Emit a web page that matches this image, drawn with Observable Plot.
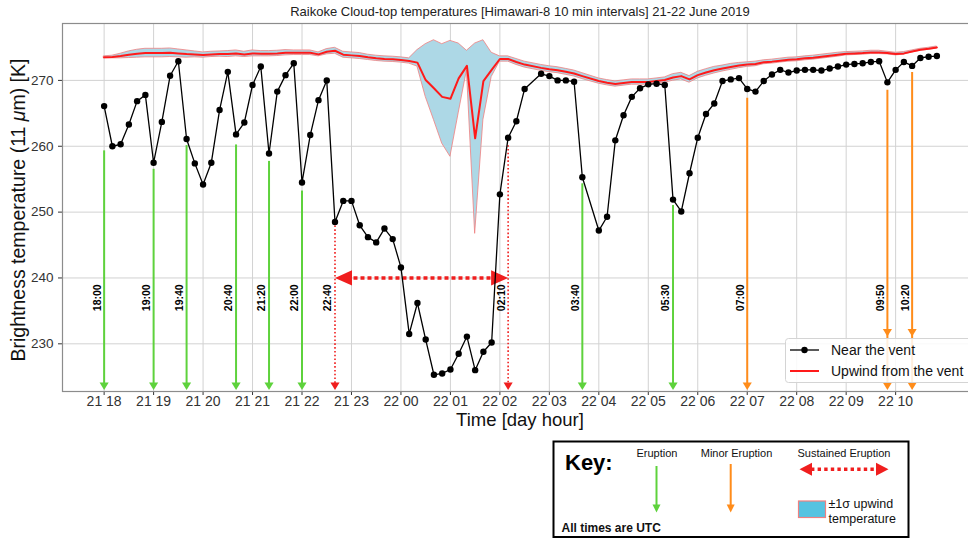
<!DOCTYPE html>
<html>
<head>
<meta charset="utf-8">
<script src="https://cdn.jsdelivr.net/npm/d3@7"></script>
<script src="https://cdn.jsdelivr.net/npm/@observablehq/plot@0.6"></script>
<style>
  html, body { margin: 0; padding: 0; background: #fff; overflow: hidden; }
  #fig { position: relative; width: 968px; height: 539px; overflow: hidden;
         font-family: "Liberation Sans", Arial, Helvetica, sans-serif; }
  #title { position: absolute; left: 62px; width: 916px; top: 4px; text-align: center;
           font-size: 13px; line-height: 16px; color: #222; }
  #chart { position: absolute; left: 0; top: 0; width: 978px; height: 432px; }
  #chart svg { max-width: none !important; }
  #legend, #key { position: absolute; }
  #legend { left: 785px; top: 338px; }
  #key { left: 552px; top: 440px; }
</style>
</head>
<body>
<div id="fig">
  <div id="chart"></div>
  <div id="title">Raikoke Cloud-top temperatures [Himawari-8 10 min intervals] 21-22 June 2019</div>
  <svg id="legend" width="200" height="46"></svg>
  <svg id="key" width="360" height="99"></svg>
</div>
<script>
// ---- Himawari-8 brightness temperatures, 10-minute slots (UTC) ----
const times = [
  "18:00","18:10","18:20","18:30","18:40","18:50",
  "19:00","19:10","19:20","19:30","19:40","19:50",
  "20:00","20:10","20:20","20:30","20:40","20:50",
  "21:00","21:10","21:20","21:30","21:40","21:50",
  "22:00","22:10","22:20","22:30","22:40","22:50",
  "23:00","23:10","23:20","23:30","23:40","23:50",
  "00:00","00:10","00:20","00:30","00:40","00:50",
  "01:00","01:10","01:20","01:30","01:40","01:50",
  "02:00","02:10","02:20","02:30","02:50",
  "03:00","03:10","03:20","03:30","03:40",
  "04:00","04:10","04:20","04:30","04:40","04:50",
  "05:00","05:10","05:20","05:30","05:40","05:50",
  "06:00","06:10","06:20","06:30","06:40","06:50",
  "07:00","07:10","07:20","07:30","07:40","07:50",
  "08:00","08:10","08:20","08:30","08:40","08:50",
  "09:00","09:10","09:20","09:30","09:40","09:50",
  "10:00","10:10","10:20","10:30","10:40","10:50"
];

// Cloud-top temperature near the vent [K]
const nearVent = [
  266.1,260.0,260.3,263.3,266.85,267.8,
  257.5,263.7,270.7,272.9,261.1,257.4,
  254.2,257.5,265.5,271.3,261.8,263.6,
  269.3,272.1,258.9,268.3,270.8,272.6,
  254.5,261.7,267.0,270.0,248.5,251.7,
  251.7,248.0,246.2,245.4,247.5,245.9,
  241.6,231.5,236.2,230.65,225.3,225.5,
  226.1,228.5,231.1,226.0,228.8,230.2,
  252.7,261.3,263.8,268.7,271.0,
  270.65,270.0,270.0,269.8,255.3,
  247.2,249.3,260.9,264.7,267.5,268.8,
  269.4,269.5,269.3,251.9,250.1,255.9,
  261.3,264.9,266.5,269.9,270.15,270.35,
  268.7,268.3,269.9,270.9,271.6,271.2,
  271.5,271.6,271.6,271.5,271.8,272.1,
  272.4,272.5,272.6,272.8,272.9,269.7,
  271.6,272.8,272.2,273.4,273.6,273.7
];

// Mean temperature upwind from the vent [K]
const upwind = [
  273.5,273.55,273.7,273.9,274.05,274.15,
  274.15,274.15,274.2,274.1,274.0,273.95,
  273.85,273.95,274.0,274.0,274.1,273.95,
  274.1,274.05,274.05,274.1,274.2,274.2,
  274.2,274.2,273.95,274.35,274.5,273.9,
  273.8,273.7,273.5,273.35,273.25,273.2,
  273.1,272.95,272.7,270.05,268.8,267.5,
  267.2,270.3,272.2,261.2,269.9,271.6,
  273.25,273.25,272.8,272.4,271.9,
  271.7,271.55,271.3,271.05,270.65,
  269.9,269.65,269.45,269.6,269.75,269.75,
  269.75,269.9,270.05,270.45,270.65,270.15,
  270.8,271.2,271.55,271.8,272.05,272.25,
  272.4,272.5,272.75,272.85,273.0,273.15,
  273.2,273.35,273.45,273.6,273.75,273.9,
  274.05,274.1,274.15,274.25,274.25,274.15,
  274.0,274.1,274.4,274.65,274.8,275.0
];

// Upwind -1 sigma and +1 sigma bounds [K]
const upwindLow = [
  273.35,273.35,273.35,273.4,273.45,273.5,
  273.5,273.5,273.55,273.5,273.45,273.5,
  273.45,273.55,273.6,273.55,273.65,273.55,
  273.65,273.65,273.65,273.7,273.8,273.85,
  273.85,273.85,273.65,273.95,274.05,273.45,
  273.35,273.25,273.1,272.95,272.85,272.8,
  272.7,272.55,272.1,267.5,264.0,260.4,
  258.4,265.0,271.5,246.7,264.0,270.5,
  272.85,272.85,272.35,271.95,271.45,
  271.25,271.1,270.85,270.6,270.2,
  269.5,269.25,269.05,269.2,269.35,269.35,
  269.35,269.5,269.65,269.95,270.15,269.65,
  270.3,270.7,271.05,271.35,271.6,271.85,
  272.05,272.15,272.45,272.55,272.7,272.85,
  272.9,273.05,273.15,273.3,273.45,273.6,
  273.8,273.85,273.9,274.0,274.0,273.95,
  273.8,273.9,274.25,274.5,274.65,274.85
];
const upwindHigh = [
  273.65,273.75,274.05,274.4,274.65,274.8,
  274.8,274.8,274.85,274.7,274.55,274.4,
  274.25,274.35,274.4,274.45,274.55,274.35,
  274.55,274.45,274.45,274.5,274.6,274.55,
  274.55,274.55,274.25,274.75,274.95,274.35,
  274.25,274.15,273.9,273.75,273.65,273.6,
  273.5,273.35,274.6,275.5,276.1,275.5,
  276.0,275.6,274.5,275.6,276.1,274.2,
  273.65,273.65,273.25,272.85,272.35,
  272.15,272.0,271.75,271.5,271.1,
  270.3,270.05,269.85,270.0,270.15,270.15,
  270.15,270.3,270.45,270.95,271.15,270.65,
  271.3,271.7,272.05,272.25,272.5,272.65,
  272.75,272.85,273.05,273.15,273.3,273.45,
  273.5,273.65,273.75,273.9,274.05,274.2,
  274.3,274.35,274.4,274.5,274.5,274.35,
  274.2,274.3,274.55,274.8,274.95,275.15
];

// Eruption annotations: time and the temperature where each arrow starts
const eruptionTimes = ["18:00","19:00","19:40","20:40","21:20","22:00","03:40","05:30"];
const eruptionTop = [259.3,256.5,260.1,260.2,257.7,253.2,254.3,251.0];
const minorTimes = ["07:00","09:50","10:20"];
const minorTop = [267.3,268.5,271.2];
const minorMidTimes = ["09:50","10:20"];
const minorMidTip = 231.1;
const sustainedTimes = ["22:40","02:10"];
const sustainedTop = [248.5,260.7];
const sustainedLevel = 240;
const labelLevel = 237;
const tempTicks = [230,240,250,260,270];

// ---- build ----
const parseTime = s => {
  const [h, m] = s.split(":").map(Number);
  return new Date(Date.UTC(2019, 5, h >= 12 ? 21 : 22, h, m));
};
const rows = times.map((s, i) => ({
  t: parseTime(s), near: nearVent[i], up: upwind[i], lo: upwindLow[i], hi: upwindHigh[i]
}));
const [t0, t1] = d3.extent(rows, d => d.t);
const padT = (t1 - t0) * 0.05;
const yMin = d3.min(rows, d => Math.min(d.near, d.lo));
const yMax = d3.max(rows, d => Math.max(d.near, d.hi));
const padY = (yMax - yMin) * 0.05;
const yDomain = [yMin - padY, yMax + padY];
const hourTicks = d3.utcHour.range(t0, new Date(+t1 + 1));

const eruptions = eruptionTimes.map((s, i) => ({t: parseTime(s), top: eruptionTop[i], label: s}));
const minors = minorTimes.map((s, i) => ({t: parseTime(s), top: minorTop[i], label: s}));
const minorMids = minorMidTimes.map(s => ({t: parseTime(s), tip: minorMidTip}));
const sustained = sustainedTimes.map((s, i) => ({t: parseTime(s), top: sustainedTop[i], label: s}));
const labels = [...eruptions, ...sustained, ...minors];

const green = "#5ed23c", orange = "#ff8c1a", red = "#f01e1e";

// Filled arrowheads, tip at the anchor point, pointing down before rotation
const headSmall = {draw(ctx, size) {
  const r = Math.sqrt(size / Math.PI);
  ctx.moveTo(0, 0); ctx.lineTo(-1.2 * r, -2 * r); ctx.lineTo(1.2 * r, -2 * r); ctx.closePath();
}};
const headLarge = {draw(ctx, size) {
  const r = Math.sqrt(size / Math.PI);
  ctx.moveTo(0, 0); ctx.lineTo(-0.9 * r, -2 * r); ctx.lineTo(0.9 * r, -2 * r); ctx.closePath();
}};

const chart = Plot.plot({
  width: 978, height: 432,
  marginTop: 23, marginBottom: 41, marginLeft: 62, marginRight: 0,
  style: {fontFamily: '"Liberation Sans", Arial, Helvetica, sans-serif', fontSize: "14px", color: "#333", background: "transparent", maxWidth: "none"},
  x: {type: "utc", domain: [new Date(+t0 - padT), new Date(+t1 + padT)], ticks: hourTicks,
      tickFormat: d3.utcFormat("%d %H"), tickSize: 4, tickPadding: 1, label: null},
  y: {domain: yDomain, ticks: tempTicks, tickSize: 4, tickPadding: 5, label: null},
  marks: [
    Plot.ruleX(hourTicks, {stroke: "#d2d2d2", strokeWidth: 1}),
    Plot.ruleY(tempTicks, {stroke: "#d2d2d2", strokeWidth: 1}),
    // upwind ±1σ band and mean
    Plot.areaY(rows, {x: "t", y1: "lo", y2: "hi", fill: "#add8e6", stroke: "#f08080", strokeOpacity: 0.8, strokeWidth: 1}),
    Plot.line(rows, {x: "t", y: "up", stroke: "#ff1a1a", strokeWidth: 2}),
    // eruption arrows
    Plot.ruleX(eruptions, {x: "t", y1: "top", y2: () => yDomain[0], stroke: green, strokeWidth: 2, insetBottom: 5}),
    Plot.dot(eruptions, {x: "t", frameAnchor: "bottom", dy: -1.5, symbol: headSmall, r: 3.8, fill: green, stroke: "none"}),
    Plot.ruleX(minors, {x: "t", y1: "top", y2: () => yDomain[0], stroke: orange, strokeWidth: 2, insetBottom: 5}),
    Plot.dot(minors, {x: "t", frameAnchor: "bottom", dy: -1.5, symbol: headSmall, r: 3.8, fill: orange, stroke: "none"}),
    Plot.dot(minorMids, {x: "t", y: "tip", symbol: headSmall, r: 3.8, fill: orange, stroke: "none"}),
    // sustained eruption
    Plot.ruleX(sustained, {x: "t", y1: "top", y2: () => yDomain[0], stroke: red, strokeWidth: 1.6, strokeDasharray: "1.6,2.2", insetTop: 4, insetBottom: 5}),
    Plot.dot(sustained, {x: "t", frameAnchor: "bottom", dy: -1.5, symbol: headSmall, r: 3.8, fill: red, stroke: "none"}),
    Plot.ruleY([sustainedLevel], {x1: () => sustained[0].t, x2: () => sustained[1].t, stroke: red, strokeWidth: 3.6, strokeDasharray: "4,3", insetLeft: 12, insetRight: 12}),
    Plot.dot([sustained[0]], {x: "t", y: () => sustainedLevel, symbol: headLarge, r: 8.5, rotate: 90, fill: red, stroke: "none"}),
    Plot.dot([sustained[1]], {x: "t", y: () => sustainedLevel, symbol: headLarge, r: 8.5, rotate: -90, fill: red, stroke: "none"}),
    Plot.text(labels, {x: "t", y: () => labelLevel, text: "label", rotate: -90, dx: -7, fontSize: 10.5, fontWeight: "bold", fill: "#000"}),
    // near-vent series
    Plot.line(rows, {x: "t", y: "near", stroke: "#000", strokeWidth: 1.3}),
    Plot.dot(rows, {x: "t", y: "near", r: 3.2, fill: "#000", stroke: "none"}),
    Plot.frame({stroke: "#8c8c8c", strokeWidth: 1.2})
  ]
});
document.getElementById("chart").appendChild(chart);

const svgNode = chart.tagName.toLowerCase() === "svg" ? chart : chart.querySelector("svg");
svgNode.style.maxWidth = "none";
svgNode.style.width = "978px";
svgNode.style.height = "432px";
const svg = d3.select(svgNode);
svg.selectAll("g[aria-label='y-axis tick label']").attr("font-size", 13.5);

// x-axis title
svg.append("text")
  .attr("x", 62 + 916 / 2).attr("y", 426)
  .attr("text-anchor", "middle").attr("font-size", 18.5).attr("fill", "#111")
  .text("Time [day hour]");

// y-axis title with italic mu
const yTitle = svg.append("text")
  .attr("transform", "translate(18,210) rotate(-90)")
  .attr("text-anchor", "middle").attr("dy", "0.35em")
  .attr("font-size", 19.5).attr("fill", "#111");
yTitle.append("tspan").text("Brightness temperature (11 ");
yTitle.append("tspan").attr("font-style", "italic").text("μ");
yTitle.append("tspan").text("m) [K]");

// in-plot legend
const legend = d3.select("#legend");
legend.append("rect").attr("x", 0.5).attr("y", 0.5).attr("width", 199).attr("height", 44).attr("rx", 3)
  .attr("fill", "#fff").attr("fill-opacity", 0.85).attr("stroke", "#d4d4d4");
legend.append("line").attr("x1", 5).attr("x2", 34).attr("y1", 12).attr("y2", 12).attr("stroke", "#000").attr("stroke-width", 1.3);
legend.append("circle").attr("cx", 19.5).attr("cy", 12).attr("r", 3.2).attr("fill", "#000");
legend.append("text").attr("x", 46).attr("y", 12).attr("dy", "0.35em").attr("font-size", 14).attr("fill", "#111").text("Near the vent");
legend.append("line").attr("x1", 5).attr("x2", 34).attr("y1", 33).attr("y2", 33).attr("stroke", "#ff1a1a").attr("stroke-width", 2);
legend.append("text").attr("x", 46).attr("y", 33).attr("dy", "0.35em").attr("font-size", 14).attr("fill", "#111").text("Upwind from the vent");

// key box under the chart
const key = d3.select("#key");
key.append("rect").attr("x", 1.5).attr("y", 1.5).attr("width", 355).attr("height", 95.5).attr("fill", "#fff").attr("stroke", "#000").attr("stroke-width", 2);
key.append("text").attr("x", 13).attr("y", 30).attr("font-size", 22).attr("font-weight", "bold").text("Key:");
const keyText = (x, y, s, size = 11, anchor = "middle", weight = "normal") =>
  key.append("text").attr("x", x).attr("y", y).attr("font-size", size).attr("text-anchor", anchor).attr("font-weight", weight).attr("fill", "#111").text(s);
keyText(105, 17, "Eruption");
keyText(184.5, 17, "Minor Eruption");
keyText(292, 16.5, "Sustained Eruption");
const keyArrow = (x, y0, y1, color) => {
  key.append("line").attr("x1", x).attr("x2", x).attr("y1", y0).attr("y2", y1 - 6).attr("stroke", color).attr("stroke-width", 2);
  key.append("path").attr("d", `M${x},${y1}L${x - 4},${y1 - 8}L${x + 4},${y1 - 8}Z`).attr("fill", color);
};
keyArrow(104.5, 26, 72.5, green);
keyArrow(178.7, 24, 72.5, orange);
key.append("line").attr("x1", 259).attr("x2", 325).attr("y1", 29.3).attr("y2", 29.3).attr("stroke", red).attr("stroke-width", 3.4).attr("stroke-dasharray", "3.4,3.2");
key.append("path").attr("d", "M247.5,29.3L260,22.8L260,35.8Z").attr("fill", red);
key.append("path").attr("d", "M336.5,29.3L324,22.8L324,35.8Z").attr("fill", red);
key.append("rect").attr("x", 246.5).attr("y", 61).attr("width", 27).attr("height", 16.5).attr("fill", "#56c3e1").attr("stroke", "#f08080").attr("stroke-width", 1.2);
keyText(276.5, 67.5, "±1σ upwind", 12.5, "start");
keyText(276.5, 82.5, "temperature", 12.5, "start");
keyText(9.5, 92, "All times are UTC", 12, "start", "bold");
</script>
</body>
</html>
